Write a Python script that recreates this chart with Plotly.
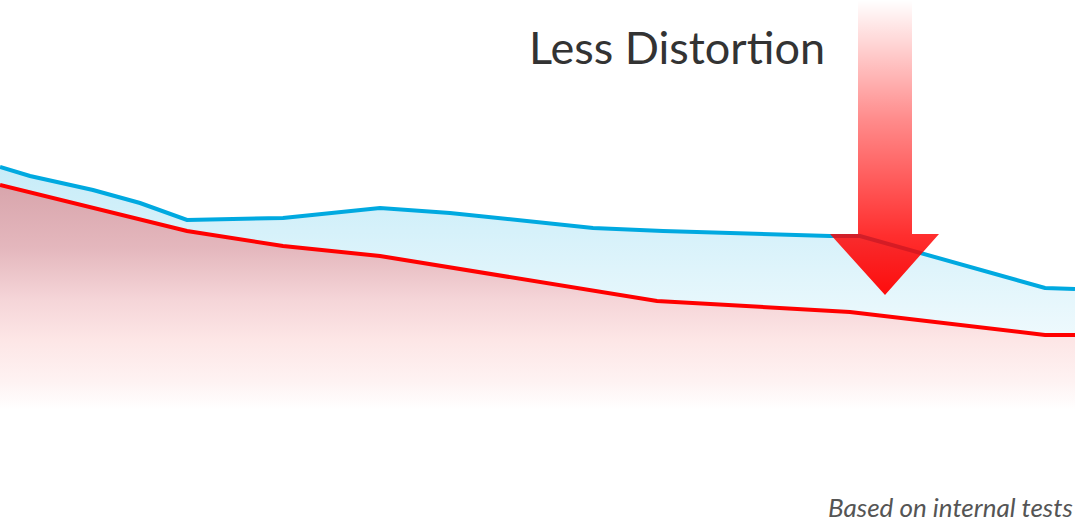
import plotly.graph_objects as go

# Distortion curves (arbitrary units; higher = more distortion)
x_blue = [0, 30, 93, 140, 187, 283, 380, 450, 593, 663, 830, 860, 1045, 1075]
y_blue = [243, 234, 220, 207, 190, 192, 202, 197, 182, 179, 174, 174, 122, 121]

x_red = [0, 187, 283, 380, 657, 850, 1045, 1075]
y_red = [225, 179, 164, 154, 109, 98, 75, 75]

# Arrow decoration (axis units)
arrow_x = [858, 912, 912, 939, 885, 830, 858, 858]
arrow_y = [410, 410, 176, 176, 115, 176, 176, 410]

BLUE = "rgb(0,169,224)"
RED = "rgb(255,0,0)"

fig = go.Figure()

# red area (opaque gradient fading to white)
fig.add_trace(go.Scatter(
    x=x_red, y=y_red, mode="lines",
    line=dict(color="rgba(0,0,0,0)", width=0),
    fill="tozeroy",
    fillgradient=dict(type="vertical", start=0, stop=max(y_red),
                      colorscale=[[0, "rgb(255,255,255)"], [0.13, "rgb(254,242,242)"],
                                  [0.31, "rgb(253,230,230)"], [0.49, "rgb(245,213,216)"],
                                  [0.72, "rgb(228,183,189)"], [1, "rgb(216,165,172)"]]),
    hoverinfo="skip", showlegend=False,
))

# blue band between the curves
fig.add_trace(go.Scatter(
    x=x_blue, y=y_blue, mode="lines",
    line=dict(color=BLUE, width=4),
    fill="tonexty",
    fillgradient=dict(type="vertical", start=0, stop=max(y_blue),
                      colorscale=[[0, "rgba(0,169,224,0)"], [1, "rgba(0,169,224,0.22)"]]),
    hoverinfo="skip", showlegend=False,
))

# red curve
fig.add_trace(go.Scatter(
    x=x_red, y=y_red, mode="lines",
    line=dict(color=RED, width=4),
    hoverinfo="skip", showlegend=False,
))

fig.add_trace(go.Scatter(
    x=arrow_x, y=arrow_y, mode="lines",
    line=dict(width=0, color="rgba(0,0,0,0)"),
    fill="toself",
    fillgradient=dict(type="vertical", start=min(arrow_y), stop=max(arrow_y),
                      colorscale=[[0, "rgba(255,0,0,0.95)"], [0.2, "rgba(255,0,0,0.82)"],
                                  [0.6, "rgba(255,0,0,0.45)"], [1, "rgba(255,0,0,0)"]]),
    hoverinfo="skip", showlegend=False,
))

W, H = 1075, 521
fig.update_layout(
    width=W, height=H,
    margin=dict(l=0, r=0, t=0, b=0),
    paper_bgcolor="white", plot_bgcolor="white",
    xaxis=dict(range=[0, 1075], visible=False, fixedrange=True),
    yaxis=dict(range=[-111, 410], visible=False, fixedrange=True),
    annotations=[
        dict(text="Less Distortion", xref="paper", yref="paper",
             x=827 / W, y=1 - 47 / H, xanchor="right", yanchor="middle",
             showarrow=False, font=dict(family="Lato", size=45, color="#333333")),
        dict(text="<i>Based on internal tests</i>", xref="paper", yref="paper",
             x=1075 / W, y=1 - 507 / H, xanchor="right", yanchor="middle",
             showarrow=False, font=dict(family="Lato", size=26, color="#555555")),
    ],
)

fig.write_html("out.html", config={"staticPlot": True},
               post_script="document.body.style.margin='0px';document.body.style.overflow='hidden';")
